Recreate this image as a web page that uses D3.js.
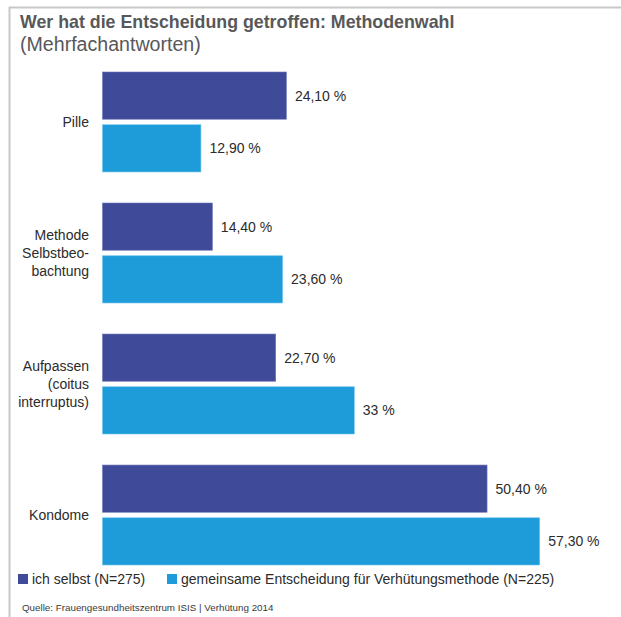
<!DOCTYPE html>
<html><head><meta charset="utf-8">
<script src="https://cdn.jsdelivr.net/npm/d3@7"></script>
<style>body{margin:0;background:#fff}svg{display:block;font-family:"Liberation Sans",Arial,Helvetica,sans-serif}</style>
</head><body>
<script>
const categories = ["Pille", "Methode Selbstbeobachtung", "Aufpassen", "Kondome"];
const categoryLines = [["Pille"], ["Methode", "Selbstbeo-", "bachtung"], ["Aufpassen", "(coitus", "interruptus)"], ["Kondome"]];
const series = ["ich selbst (N=275)", "gemeinsame Entscheidung für Verhütungsmethode (N=225)"];
const selbst = [24.1, 14.4, 22.7, 50.4];
const gemeinsam = [12.9, 23.6, 33, 57.3];
const selbstLabels = ["24,10 %", "14,40 %", "22,70 %", "50,40 %"];
const gemeinsamLabels = ["12,90 %", "23,60 %", "33 %", "57,30 %"];
const colors = ["#3f4a99", "#1d9cd9"];

const W = 621, H = 617;
const svg = d3.select("body").append("svg").attr("width", W).attr("height", H);

// frame
svg.append("line").attr("x1", 9).attr("x2", W).attr("y1", 7.5).attr("y2", 7.5).attr("stroke", "#c8c8c8").attr("stroke-width", 2);
svg.append("line").attr("x1", 9.5).attr("x2", 9.5).attr("y1", 7).attr("y2", H).attr("stroke", "#c8c8c8").attr("stroke-width", 2);

svg.append("text").attr("x", 20).attr("y", 28).attr("font-size", 17.8).attr("font-weight", "bold").attr("fill", "#58585a")
  .text("Wer hat die Entscheidung getroffen: Methodenwahl");
svg.append("text").attr("x", 20).attr("y", 51).attr("font-size", 19.6).attr("fill", "#58585a")
  .text("(Mehrfachantworten)");

const y = d3.scaleBand().domain(categories).range([72, 565]).paddingInner(0.237).paddingOuter(0);
const y1 = d3.scaleBand().domain(series).range([0, y.bandwidth()]).paddingInner(0.105);
const x = d3.scaleLinear().domain([0, 100]).range([102.5, 865.5]);

const rows = categories.map((c, i) => ({c, i, vals: [
  {s: series[0], v: selbst[i], l: selbstLabels[i]},
  {s: series[1], v: gemeinsam[i], l: gemeinsamLabels[i]}]}));

const g = svg.selectAll("g.cat").data(rows).join("g").attr("class", "cat")
  .attr("transform", d => `translate(0,${y(d.c)})`);

g.selectAll("rect").data(d => d.vals).join("rect")
  .attr("x", x(0)).attr("y", d => y1(d.s)).attr("width", d => x(d.v) - x(0)).attr("height", y1.bandwidth())
  .attr("fill", (d, j) => colors[j]).attr("stroke", (d, j) => j ? "#6cc3ee" : "#6d76b5").attr("stroke-width", 0.6);

g.selectAll("text.val").data(d => d.vals).join("text").attr("class", "val")
  .attr("x", d => x(d.v) + 8.5).attr("y", d => y1(d.s) + y1.bandwidth() / 2).attr("dy", "0.35em")
  .attr("font-size", 14).attr("fill", "#2b2b2b").text(d => d.l);

g.each(function(d) {
  const lines = categoryLines[d.i];
  const lh = 18;
  const t = d3.select(this).append("text").attr("text-anchor", "end").attr("font-size", 14).attr("fill", "#2b2b2b");
  lines.forEach((ln, k) => {
    t.append("tspan").attr("x", 89)
      .attr("y", y.bandwidth() / 2 + (k - (lines.length - 1) / 2) * lh).attr("dy", "0.35em").text(ln);
  });
});

// legend
const legX = [18, 167];
const leg = svg.selectAll("g.leg").data(series).join("g").attr("class", "leg")
  .attr("transform", (d, i) => `translate(${legX[i]},579)`);
leg.append("rect").attr("x", 0).attr("y", -5).attr("width", 10).attr("height", 10).attr("fill", (d, i) => colors[i]);
leg.append("text").attr("x", 14).attr("y", 0).attr("dy", "0.35em").attr("font-size", 14).attr("fill", "#2b2b2b").text(d => d);

svg.append("text").attr("x", 22).attr("y", 611).attr("font-size", 9.8).attr("fill", "#3a3a3a")
  .text("Quelle: Frauengesundheitszentrum ISIS | Verhütung 2014");
</script>
</body></html>
